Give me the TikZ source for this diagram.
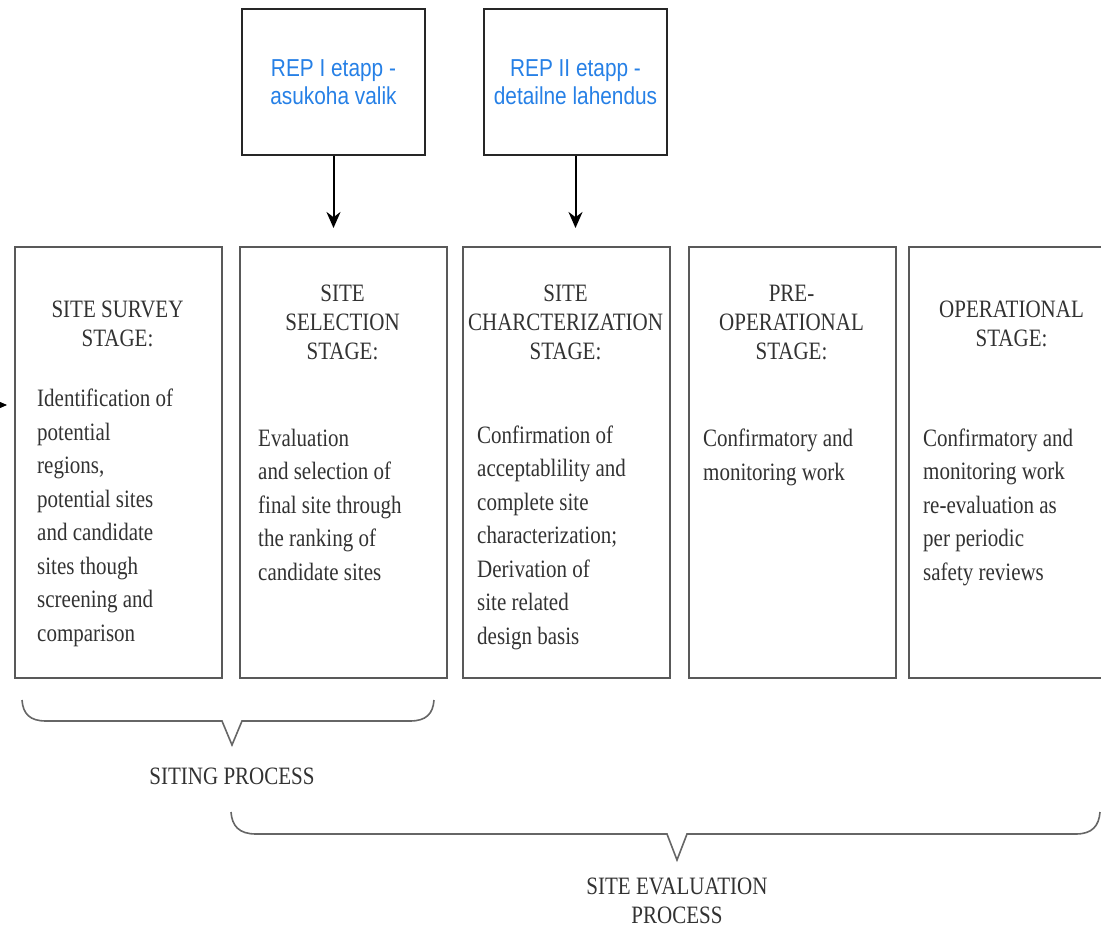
\documentclass[tikz,border=0pt]{standalone}
\usepackage{fontspec}
\setmainfont{Liberation Serif}[FakeStretch=0.84]
\newfontfamily\arialfont{Liberation Sans}[FakeStretch=0.85]
\usetikzlibrary{arrows.meta,positioning}
\definecolor{repblue}{RGB}{38,128,230}
\definecolor{inkgray}{RGB}{50,50,50}

\begin{document}
\begin{tikzpicture}[
		x=1pt, y=-1pt,
		rep/.style = {draw=black!85, line width=2pt, minimum width=183pt, minimum height=146pt, inner sep=0pt, align=center, text=repblue, font=\arialfont\fontsize{24.5}{28}\selectfont},
		stage/.style = {draw=black!65, line width=2pt, minimum width=207pt, minimum height=431pt, inner sep=0pt, anchor=north west},
		head/.style = {anchor=base, align=center, inner sep=0pt, text=inkgray, font=\fontsize{25}{29}\selectfont},
		body/.style = {anchor=base west, align=left, inner sep=0pt, text=inkgray, font=\fontsize{25}{33.5}\selectfont},
		link/.style = {-{Stealth[length=16pt,width=14pt]}, line width=2pt},
		brace/.style = {draw=black!60, line width=1.6pt}
	]
	\useasboundingbox (0,0) rectangle (1101,928);
	\clip (0,0) rectangle (1101,928);
	% REP stages.
	\node[rep] (rep1) at (333.5,82) {REP I etapp -\\asukoha valik};
	\node[rep] (rep2) at (575.5,82) {REP II etapp -\\detailne lahendus};
	% Stage boxes.
	\node[stage] (survey) at (14,246) {};
	\node[stage] (select) at (239,246) {};
	\node[stage] (charact) at (462,246) {};
	\node[stage] (preop) at (688,246) {};
	\node[stage] (oper) at (908,246) {};
	% Headings (placed by their last baseline).
	\node[head] (surveyhead) at (117.5,346) {SITE SURVEY\\STAGE:};
	\node[head] (selecthead) at (342.5,359) {SITE\\SELECTION\\STAGE:};
	\node[head] (characthead) at (565.5,359) {SITE\\CHARCTERIZATION\\STAGE:};
	\node[head] (preophead) at (791.5,359) {PRE-\\OPERATIONAL\\STAGE:};
	\node[head] (operhead) at (1011.5,346) {OPERATIONAL\\STAGE:};
	% Descriptions.
	\node[body] (surveytext) at (37,641) {Identification of\\potential\\regions,\\potential sites\\and candidate\\sites though\\screening and\\comparison};
	\node[body] (selecttext) at (258,580) {Evaluation\\and selection of\\final site through\\the ranking of\\candidate sites};
	\node[body] (characttext) at (477,644) {Confirmation of\\acceptablility and\\complete site\\characterization;\\Derivation of\\site related\\design basis};
	\node[body] (preoptext) at (703,480) {Confirmatory and\\monitoring work};
	\node[body] (opertext) at (923,580) {Confirmatory and\\monitoring work\\re-evaluation as\\per periodic\\safety reviews};
	% Braces.
	\draw[brace] (22,700) .. controls (23,714) and (30,721) .. (46,721) -- (222,721) -- (232,745) -- (242,721) -- (410,721) .. controls (426,721) and (433,714) .. (434,700);
	\node[head] (siting) at (232,784) {SITING PROCESS};
	\draw[brace] (231,812) .. controls (232,826) and (239,834) .. (256,834) -- (667,834) -- (677,860) -- (687,834) -- (1076,834) .. controls (1092,834) and (1099,826) .. (1100,812);
	\node[head] (evaluation) at (677,923) {SITE EVALUATION\\PROCESS};
	
	\coordinate (selectin) at (333.5,228);
	\coordinate (charactin) at (575.5,228);
	\coordinate (leftout) at (-30,405);
	\coordinate (leftin) at (7,405);
	\draw[link] (rep1) -- (selectin);
	\draw[link] (rep2) -- (charactin);
	\draw[link, line width=1pt] (leftout) -- (leftin);
\end{tikzpicture}
\end{document}
